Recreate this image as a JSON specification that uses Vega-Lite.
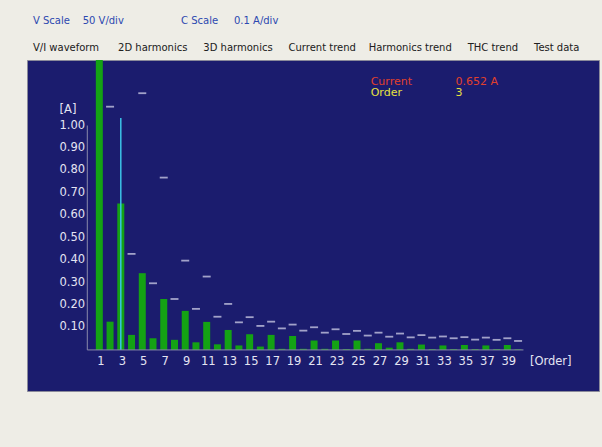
{
  "$schema": "https://vega.github.io/schema/vega-lite/v6.json",
  "autosize": {"type": "none"},
  "width": 572,
  "height": 331,
  "padding": {"left": 27, "top": 60, "right": 3, "bottom": 56},
  "background": "#EEEDE6",
  "config": {
    "font": "DejaVu Sans",
    "view": {"fill": "#1b1c6e", "stroke": "#8a8a9a", "strokeWidth": 1}
  },
  "title": {
    "text": "V Scale\u00a0\u00a0\u00a0\u00a050 V/div\u00a0\u00a0\u00a0\u00a0\u00a0\u00a0\u00a0\u00a0\u00a0\u00a0\u00a0\u00a0\u00a0\u00a0\u00a0\u00a0\u00a0\u00a0C Scale\u00a0\u00a0\u00a0\u00a0\u00a00.1 A/div",
    "subtitle": "V/I waveform\u00a0\u00a0\u00a0\u00a0\u00a0\u00a02D harmonics\u00a0\u00a0\u00a0\u00a0\u00a03D harmonics\u00a0\u00a0\u00a0\u00a0\u00a0Current trend\u00a0\u00a0\u00a0\u00a0Harmonics trend\u00a0\u00a0\u00a0\u00a0\u00a0THC trend\u00a0\u00a0\u00a0\u00a0\u00a0Test data",
    "anchor": "start",
    "frame": "group",
    "fontSize": 10,
    "fontWeight": "normal",
    "color": "#2c48b0",
    "subtitleColor": "#202020",
    "subtitleFontSize": 10,
    "subtitlePadding": 17,
    "offset": 7,
    "dx": 6
  },
  "datasets": {
    "harm": [
      {"order": 1, "current": 1.4, "limit": null},
      {"order": 2, "current": 0.126, "limit": 1.084},
      {"order": 3, "current": 0.652, "limit": null},
      {"order": 4, "current": 0.067, "limit": 0.428},
      {"order": 5, "current": 0.342, "limit": 1.144},
      {"order": 6, "current": 0.052, "limit": 0.297},
      {"order": 7, "current": 0.227, "limit": 0.768},
      {"order": 8, "current": 0.045, "limit": 0.227},
      {"order": 9, "current": 0.174, "limit": 0.398},
      {"order": 10, "current": 0.034, "limit": 0.183},
      {"order": 11, "current": 0.125, "limit": 0.327},
      {"order": 12, "current": 0.025, "limit": 0.148},
      {"order": 13, "current": 0.089, "limit": 0.205},
      {"order": 14, "current": 0.02, "limit": 0.123},
      {"order": 15, "current": 0.07, "limit": 0.146},
      {"order": 16, "current": 0.015, "limit": 0.107},
      {"order": 17, "current": 0.067, "limit": 0.126},
      {"order": 18, "current": 0.005, "limit": 0.096},
      {"order": 19, "current": 0.062, "limit": 0.113},
      {"order": 20, "current": 0.005, "limit": 0.086},
      {"order": 21, "current": 0.042, "limit": 0.101},
      {"order": 22, "current": 0.005, "limit": 0.077},
      {"order": 23, "current": 0.042, "limit": 0.092},
      {"order": 24, "current": 0.004, "limit": 0.071},
      {"order": 25, "current": 0.042, "limit": 0.085},
      {"order": 26, "current": 0.005, "limit": 0.064},
      {"order": 27, "current": 0.03, "limit": 0.077},
      {"order": 28, "current": 0.01, "limit": 0.059},
      {"order": 29, "current": 0.034, "limit": 0.073},
      {"order": 30, "current": 0.005, "limit": 0.056},
      {"order": 31, "current": 0.024, "limit": 0.066},
      {"order": 32, "current": 0.004, "limit": 0.055},
      {"order": 33, "current": 0.02, "limit": 0.06},
      {"order": 34, "current": 0.004, "limit": 0.052},
      {"order": 35, "current": 0.022, "limit": 0.057},
      {"order": 36, "current": 0.004, "limit": 0.046},
      {"order": 37, "current": 0.02, "limit": 0.055},
      {"order": 38, "current": 0.004, "limit": 0.045},
      {"order": 39, "current": 0.022, "limit": 0.052},
      {"order": 40, "current": 0.003, "limit": 0.04}
    ],
    "cursor": [
      {"order": 3, "current": 0.652, "top": 1.034}
    ],
    "xticks": [
      {"order": 1, "label": "1"}, {"order": 3, "label": "3"}, {"order": 5, "label": "5"},
      {"order": 7, "label": "7"}, {"order": 9, "label": "9"}, {"order": 11, "label": "11"},
      {"order": 13, "label": "13"}, {"order": 15, "label": "15"}, {"order": 17, "label": "17"},
      {"order": 19, "label": "19"}, {"order": 21, "label": "21"}, {"order": 23, "label": "23"},
      {"order": 25, "label": "25"}, {"order": 27, "label": "27"}, {"order": 29, "label": "29"},
      {"order": 31, "label": "31"}, {"order": 33, "label": "33"}, {"order": 35, "label": "35"},
      {"order": 37, "label": "37"}, {"order": 39, "label": "39"}
    ],
    "yticks": [
      {"value": 0.1, "label": "0.10"}, {"value": 0.2, "label": "0.20"},
      {"value": 0.3, "label": "0.30"}, {"value": 0.4, "label": "0.40"},
      {"value": 0.5, "label": "0.50"}, {"value": 0.6, "label": "0.60"},
      {"value": 0.7, "label": "0.70"}, {"value": 0.8, "label": "0.80"},
      {"value": 0.9, "label": "0.90"}, {"value": 1.0, "label": "1.00"}
    ],
    "one": [{}]
  },
  "layer": [
    {
      "data": {"name": "harm"},
      "mark": {"type": "bar", "width": 7, "color": "#14a214", "clip": true},
      "encoding": {
        "x": {
          "field": "order",
          "type": "quantitative",
          "scale": {"domain": [-5.27, 47.07], "nice": false, "zero": false},
          "axis": null
        },
        "y": {
          "field": "current",
          "type": "quantitative",
          "scale": {"domain": [-0.183, 1.292], "nice": false, "zero": false},
          "axis": null
        }
      }
    },
    {
      "data": {"name": "harm"},
      "transform": [{"filter": "isValid(datum.limit)"}],
      "mark": {"type": "tick", "orient": "horizontal", "size": 8, "thickness": 1.8, "color": "#dcdcf0"},
      "encoding": {
        "x": {"field": "order", "type": "quantitative", "axis": null},
        "y": {"field": "limit", "type": "quantitative", "axis": null}
      }
    },
    {
      "data": {"name": "cursor"},
      "mark": {"type": "rule", "color": "#3cc4e8", "strokeWidth": 1.5},
      "encoding": {
        "x": {"field": "order", "type": "quantitative", "axis": null},
        "y": {"field": "top", "type": "quantitative", "axis": null},
        "y2": {"datum": 0}
      }
    },
    {
      "data": {"name": "one"},
      "mark": {"type": "rule", "color": "#8a8aaa", "strokeWidth": 1},
      "encoding": {
        "x": {"datum": -0.12, "type": "quantitative", "axis": null},
        "y": {"datum": 0, "type": "quantitative", "axis": null},
        "y2": {"datum": 1.0}
      }
    },
    {
      "data": {"name": "one"},
      "mark": {"type": "rule", "color": "#8a8aaa", "strokeWidth": 1},
      "encoding": {
        "x": {"datum": -0.12, "type": "quantitative", "axis": null},
        "x2": {"datum": 40.5},
        "y": {"datum": 0, "type": "quantitative", "axis": null}
      }
    },
    {
      "data": {"name": "xticks"},
      "mark": {"type": "text", "color": "#e4e4f2", "fontSize": 11.5, "align": "center", "baseline": "middle", "dx": 1.5},
      "encoding": {
        "x": {"field": "order", "type": "quantitative", "axis": null},
        "y": {"datum": -0.0535, "type": "quantitative", "axis": null},
        "text": {"field": "label"}
      }
    },
    {
      "data": {"name": "one"},
      "mark": {"type": "text", "text": "[Order]", "color": "#e4e4f2", "fontSize": 11.5, "align": "center", "baseline": "middle"},
      "encoding": {
        "x": {"datum": 43.04, "type": "quantitative", "axis": null},
        "y": {"datum": -0.0535, "type": "quantitative", "axis": null}
      }
    },
    {
      "data": {"name": "yticks"},
      "mark": {"type": "text", "color": "#e4e4f2", "fontSize": 11.5, "align": "right", "baseline": "middle"},
      "encoding": {
        "x": {"datum": -0.33, "type": "quantitative", "axis": null},
        "y": {"field": "value", "type": "quantitative", "axis": null},
        "text": {"field": "label"}
      }
    },
    {
      "data": {"name": "one"},
      "mark": {"type": "text", "text": "[A]", "color": "#e4e4f2", "fontSize": 11.5, "align": "left", "baseline": "middle"},
      "encoding": {
        "x": {"datum": -2.7, "type": "quantitative", "axis": null},
        "y": {"datum": 1.07, "type": "quantitative", "axis": null}
      }
    },
    {
      "data": {"name": "one"},
      "mark": {"type": "text", "text": "Current", "color": "#e0402c", "fontSize": 11, "align": "left", "baseline": "middle"},
      "encoding": {"x": {"datum": 26.27, "type": "quantitative", "axis": null}, "y": {"datum": 1.196, "type": "quantitative", "axis": null}}
    },
    {
      "data": {"name": "one"},
      "mark": {"type": "text", "text": "0.652 A", "color": "#e0402c", "fontSize": 11, "align": "left", "baseline": "middle"},
      "encoding": {"x": {"datum": 34.17, "type": "quantitative", "axis": null}, "y": {"datum": 1.196, "type": "quantitative", "axis": null}}
    },
    {
      "data": {"name": "one"},
      "mark": {"type": "text", "text": "Order", "color": "#e6e040", "fontSize": 11, "align": "left", "baseline": "middle"},
      "encoding": {"x": {"datum": 26.27, "type": "quantitative", "axis": null}, "y": {"datum": 1.144, "type": "quantitative", "axis": null}}
    },
    {
      "data": {"name": "one"},
      "mark": {"type": "text", "text": "3", "color": "#e6e040", "fontSize": 11, "align": "left", "baseline": "middle"},
      "encoding": {"x": {"datum": 34.17, "type": "quantitative", "axis": null}, "y": {"datum": 1.144, "type": "quantitative", "axis": null}}
    }
  ]
}
